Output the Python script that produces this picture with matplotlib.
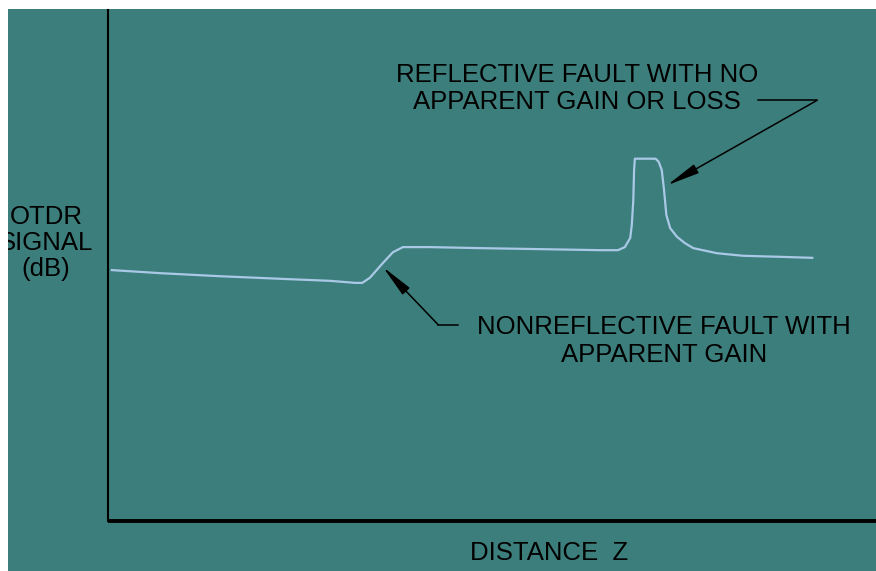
import matplotlib.pyplot as plt
from matplotlib.patches import Rectangle

# OTDR trace (distance and signal in arbitrary units)
distance = [0.05, 0.68, 1.46, 2.24, 2.89, 3.22, 3.31, 3.41, 3.58, 3.71, 3.84,
            4.19, 4.84, 5.63, 6.41, 6.64, 6.73, 6.80, 6.82, 6.84, 6.85, 6.86,
            7.00, 7.13, 7.17, 7.21, 7.24, 7.27, 7.32, 7.41, 7.51, 7.62, 7.93,
            8.27, 8.75, 9.17]
signal = [4.91, 4.85, 4.79, 4.74, 4.70, 4.66, 4.66, 4.76, 5.05, 5.26, 5.36,
          5.36, 5.34, 5.32, 5.30, 5.30, 5.36, 5.54, 5.79, 6.28, 6.87, 7.09,
          7.09, 7.09, 7.03, 6.87, 6.48, 5.99, 5.73, 5.56, 5.44, 5.34, 5.24,
          5.19, 5.17, 5.15]

teal = "#3c7e7b"
trace = "#a9c9e6"
font = ["Liberation Sans", "DejaVu Sans"]
fs = 18.5
head = "-|>,head_length=2.0,head_width=0.3"

fig = plt.figure(figsize=(8.76, 5.71), dpi=100)
fig.patch.set_facecolor("white")
bg = Rectangle((8 / 876, 0), 1, 1 - 9 / 571, transform=fig.transFigure,
               facecolor=teal, edgecolor="none", zorder=-10)
fig.patches.append(bg)

ax = fig.add_axes([108 / 876, 50 / 571, 1 - 108 / 876, 511 / 571])
ax.set_facecolor("none")
ax.set_xlim(0, 10)
ax.set_ylim(0, 10)
ax.set_xticks([])
ax.set_yticks([])
for s in ["top", "right"]:
    ax.spines[s].set_visible(False)
ax.spines["left"].set_linewidth(1.5)
ax.spines["bottom"].set_linewidth(2.8)
ax.spines["bottom"].set_capstyle("butt")

ax.plot(distance, signal, color=trace, lw=1.6)

# reflective fault label
ax.text(6.11, 8.46, "REFLECTIVE FAULT WITH NO\nAPPARENT GAIN OR LOSS",
        ha="center", va="center", fontsize=fs, family=font,
        linespacing=1.14, color="black")
ax.plot([8.46, 9.23], [8.23, 8.23], color="black", lw=1.1)
ax.annotate("", xy=(7.28, 6.57), xytext=(9.23, 8.23),
            arrowprops=dict(arrowstyle=head, color="black", lw=1.1,
                            shrinkA=0, shrinkB=0))

# nonreflective fault label
ax.text(7.24, 3.53, "NONREFLECTIVE FAULT WITH\nAPPARENT GAIN",
        ha="center", va="center", fontsize=fs, family=font,
        linespacing=1.2, color="black")
ax.plot([4.30, 4.56], [3.84, 3.84], color="black", lw=1.1)
ax.annotate("", xy=(3.58, 4.97), xytext=(4.30, 3.84),
            arrowprops=dict(arrowstyle=head, color="black", lw=1.1,
                            shrinkA=0, shrinkB=0))

# axis labels
ylab = fig.text(46 / 876, 1 - 243 / 571, "OTDR\nSIGNAL\n(dB)", ha="center",
                va="center", fontsize=fs, family=font, linespacing=1.11)
ylab.set_clip_path(bg)
fig.text(549 / 876, 1 - 553 / 571, "DISTANCE  Z", ha="center", va="center",
         fontsize=fs, family=font)

fig.savefig("out.png", dpi=100)
